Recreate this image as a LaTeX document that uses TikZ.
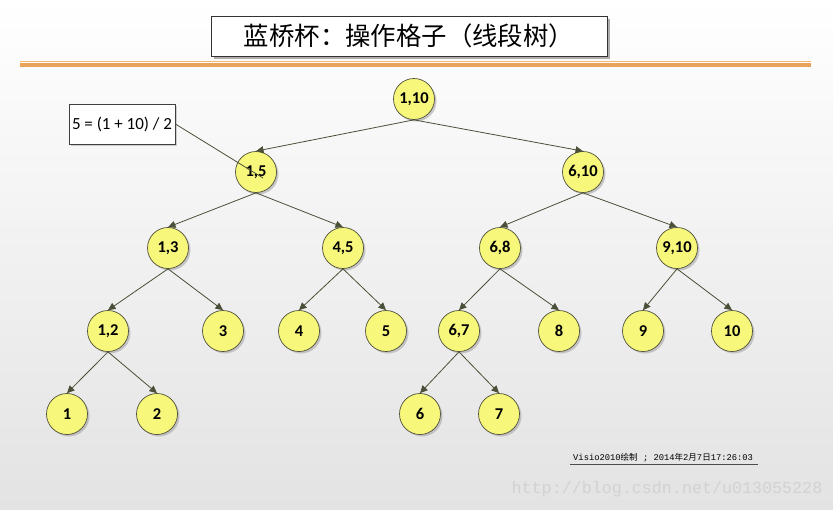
\documentclass[tikz,border=0pt]{standalone}
\usepackage{fontspec}
\setmainfont{Carlito}
\newfontfamily\cjk{Noto Sans CJK SC}
\newfontfamily\monof{Liberation Mono}
\usetikzlibrary{arrows.meta,shadows}
\definecolor{edgecol}{HTML}{4A5038}
\definecolor{nodefill}{HTML}{F7F77C}
\definecolor{nodeborder}{HTML}{4F4F3A}
\definecolor{orangeA}{HTML}{F2B872}
\definecolor{orangeB}{HTML}{E9A45A}
\definecolor{wmark}{HTML}{D2D2D2}
\tikzset{
  tnode/.style={circle, draw=nodeborder, line width=0.7pt, fill=nodefill,
    minimum size=41pt, inner sep=0pt, font=\fontsize{16.5}{18}\selectfont\bfseries,
    drop shadow={shadow xshift=2pt, shadow yshift=-2pt, fill=black!35, opacity=0.6}},
  tedge/.style={draw=edgecol, line width=0.8pt, -{Triangle[length=7.5pt,width=7pt]}},
  notebox/.style={draw=black!75, line width=0.8pt, fill=white, inner sep=0pt,
    minimum width=106pt, minimum height=40pt, font=\fontsize{17}{19}\selectfont,
    drop shadow={shadow xshift=2pt, shadow yshift=-2pt, fill=black!30, opacity=0.6}},
  titlebox/.style={draw=black!80, line width=0.8pt, fill=white, inner sep=0pt,
    minimum width=396pt, minimum height=40pt, font=\cjk\fontsize{25.4}{27}\selectfont,
    drop shadow={shadow xshift=3pt, shadow yshift=-3pt, fill=black!45, opacity=0.7}}
}
\begin{document}
\begin{tikzpicture}[x=1pt,y=-1pt]
\useasboundingbox (0,0) rectangle (833,509);
\shade[top color=white, bottom color=black!11] (0,0) rectangle (833,509);
% title
\node[titlebox] (title) at (409,36) {蓝桥杯：操作格子（线段树）};
\draw[orangeA, line width=1pt] (20,61) -- (811,61);
\draw[orangeB, line width=3.5pt] (20,65) -- (811,65);
% nodes
\node[tnode] (n110) at (414,99) {1,10};
\node[tnode] (n15) at (256,172) {1,5};
\node[tnode] (n610) at (583,172) {6,10};
\node[tnode] (n13) at (168,248) {1,3};
\node[tnode] (n45) at (343,248) {4,5};
\node[tnode] (n68) at (500,248) {6,8};
\node[tnode] (n910) at (677,248) {9,10};
\node[tnode] (n12) at (108,331) {1,2};
\node[tnode] (n3) at (223,331) {3};
\node[tnode] (n4) at (299,331) {4};
\node[tnode] (n5) at (386,331) {5};
\node[tnode] (n67) at (459,331) {6,7};
\node[tnode] (n8) at (559,331) {8};
\node[tnode] (n9) at (643,331) {9};
\node[tnode] (n10) at (732,331) {10};
\node[tnode] (n1) at (67,414) {1};
\node[tnode] (n2) at (157,414) {2};
\node[tnode] (n6) at (420,414) {6};
\node[tnode] (n7) at (499,414) {7};
% edges
\foreach \a/\b in {n110/n15,n110/n610,n15/n13,n15/n45,n610/n68,n610/n910,
  n13/n12,n13/n3,n45/n4,n45/n5,n68/n67,n68/n8,n910/n9,n910/n10,
  n12/n1,n12/n2,n67/n6,n67/n7}
  \draw[tedge] (\a.south) -- (\b.north);
% annotation
\node[notebox] (note) at (122,124) {5 = (1 + 10) / 2};
\coordinate (noteend) at (263,178);
\draw[edgecol, line width=0.8pt] (note.east) -- (noteend);
% footer
\node[inner sep=0pt, anchor=south west, font=\monof\fontsize{8.8}{9}\selectfont] (foot) at (573,462.5)
  {Visio2010{\cjk\fontsize{8.5}{9}\selectfont 绘制} ; 2014{\cjk\fontsize{8.5}{9}\selectfont 年}2{\cjk\fontsize{8.5}{9}\selectfont 月}7{\cjk\fontsize{8.5}{9}\selectfont 日}17:26:03};
\coordinate (ulA) at (570,464.5);
\coordinate (ulB) at (758,464.5);
\draw[black!70, line width=0.8pt] (ulA) -- (ulB);
\node[inner sep=0pt, font=\monof\fontsize{16.7}{18}\selectfont, text=wmark] (wm) at (667,489) {http://blog.csdn.net/u013055228};
\end{tikzpicture}
\end{document}
